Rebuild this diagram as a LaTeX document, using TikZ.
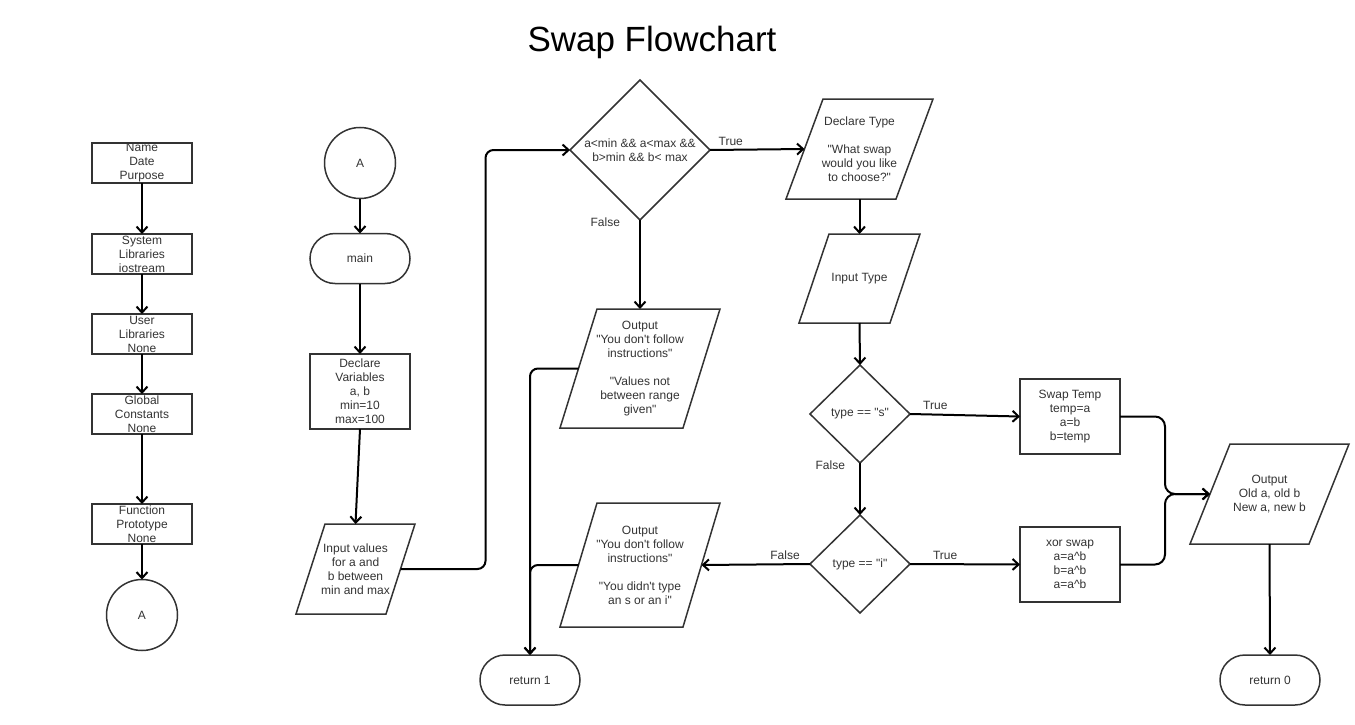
\documentclass[tikz,border=0pt]{standalone}
\usepackage{fontspec}
\setmainfont{Liberation Sans}
\usetikzlibrary{shapes.geometric,arrows.meta,calc}
\definecolor{shp}{HTML}{333333}
\definecolor{txt}{HTML}{333333}
\newcommand{\q}{\textquotesingle}
\newcommand{\dq}{\textquotedbl}
% parallelogram: name, x, y, width, height, slant, text
\newcommand{\paranode}[7]{%
  \node[ionode, minimum width=#4, minimum height=#5] (#1) at (#2,#3) {#7};
  \draw[ioline] (#1.south west) -- ++(#4-#6,0) -- (#1.north east) -- ++(-#4+#6,0) -- cycle;
  \coordinate (#1-w) at ($(#1.west)+(#6/2,0)$);
  \coordinate (#1-e) at ($(#1.east)-(#6/2,0)$);
}
\begin{document}
\begin{tikzpicture}[x=1pt,y=-1pt,
  every node/.style={font=\fontsize{12}{14}\selectfont, text=txt, align=center, inner sep=0pt, outer sep=0pt},
  procbox/.style={rectangle, draw=shp, line width=1.5pt, minimum width=100, minimum height=40},
  termnode/.style={rectangle, rounded corners=25pt, draw=shp, line width=1.5pt, minimum width=100, minimum height=50},
  connode/.style={circle, draw=shp, line width=1.5pt, minimum size=71},
  decnode/.style={diamond, aspect=1, draw=shp, line width=1.5pt},
  ionode/.style={rectangle, draw=none},
  ioline/.style={draw=shp, line width=1.5pt, line join=miter},
  conn/.style={line width=2pt, black, -{Straight Barb[length=6pt,width=11pt]}},
  lbl/.style={text=txt}]
\useasboundingbox (0,0) rectangle (1355,725);

% title
\node[text=black, anchor=base] (title) at (652,52) {\fontsize{35}{40}\selectfont Swap Flowchart};

% left column
\node[procbox] (nd) at (142,163) {Name\\Date\\Purpose};
\node[procbox] (sys) at (142,254) {System\\Libraries\\iostream};
\node[procbox] (usr) at (142,334) {User\\Libraries\\None};
\node[procbox] (glob) at (142,414) {Global\\Constants\\None};
\node[procbox] (func) at (142,524) {Function\\Prototype\\None};
\node[connode] (ca) at (142,615) {A};

% second column
\node[connode] (cb) at (360,163) {A};
\node[termnode] (mainn) at (360,258.5) {main};
\node[procbox, minimum height=75] (decl) at (360,391.5) {Declare\\Variables\\a, b\\min=10\\max=100};
\paranode{inp}{355.5}{569}{119}{90}{29}{Input values\\for a and\\b between\\min and max}

% decision 1
\node[decnode, minimum width=140, minimum height=140] (d1) at (640,150) {a<min \&\& a<max \&\&\\b>min \&\& b< max};
\paranode{out1}{640}{368.5}{160}{119}{37}{Output\\\dq You don\q t follow\\instructions\dq\\[14pt]\dq Values not\\between range\\given\dq}
\paranode{out2}{640}{565}{160}{124}{37}{Output\\\dq You don\q t follow\\instructions\dq\\[14pt]\dq You didn\q t type\\an s or an i\dq}
\node[termnode] (ret1) at (530,680) {return 1};

% type column
\paranode{dtype}{859.5}{149}{147}{100}{37}{Declare Type\\[14pt]\dq What swap\\would you like\\to choose?\dq}
\paranode{itype}{859.5}{278.5}{121}{89}{30}{Input Type}
\node[decnode, minimum width=100, minimum height=98] (ds) at (860,414) {type == \dq s\dq};
\node[decnode, minimum width=100, minimum height=98] (di) at (860,564) {type == \dq i\dq};

% swaps
\node[procbox, minimum height=75] (swp) at (1070,416.5) {Swap Temp\\temp=a\\a=b\\b=temp};
\node[procbox, minimum height=75] (xsw) at (1070,564.5) {xor swap\\a=a\textasciicircum b\\b=a\textasciicircum b\\a=a\textasciicircum b};

% output
\paranode{outf}{1269.5}{494}{159}{100}{40}{Output\\Old a, old b\\New a, new b}
\node[termnode] (ret0) at (1270,680) {return 0};

% connectors
\draw[conn] (nd) -- (sys);
\draw[conn] (sys) -- (usr);
\draw[conn] (usr) -- (glob);
\draw[conn] (glob) -- (func);
\draw[conn] (func) -- (ca);

\draw[conn] (cb) -- (mainn);
\draw[conn] (mainn) -- (decl);
\draw[conn] (decl.south) -- (inp.north);
\draw[conn, rounded corners=8pt] (inp-e) -- ++(85,0) |- (d1.west);

\draw[conn] (d1.east) -- node[lbl, pos=0.22, above=4pt] {True} (dtype-w);
\draw[conn] (d1.south) -- node[lbl, pos=0, anchor=east, xshift=-20pt, yshift=-2pt] {False} (out1.north);
\draw[conn, rounded corners=8pt] (out1-w) -| (ret1.north);
\draw[conn, rounded corners=8pt] (out2-w) -| (ret1.north);

\draw[conn] (dtype.south) -- (itype.north);
\draw[conn] (itype.south) -- (ds.north);
\draw[conn] (ds.south) -- node[lbl, pos=0, anchor=east, xshift=-15pt, yshift=-2pt] {False} (di.north);
\draw[conn] (ds.east) -- node[lbl, pos=0.23, above=5pt] {True} (swp.west);
\draw[conn] (di.east) -- node[lbl, pos=0.32, above=5pt] {True} (xsw.west);
\draw[conn] (di.west) -- node[lbl, pos=0.23, above=5pt] {False} (out2-e);

\draw[conn, rounded corners=10pt] (swp.east) -- ++(45,0) |- (outf-w);
\draw[conn, rounded corners=10pt] (xsw.east) -- ++(45,0) |- (outf-w);
\draw[conn] (outf.south) -- (ret0.north);
\end{tikzpicture}
\end{document}
